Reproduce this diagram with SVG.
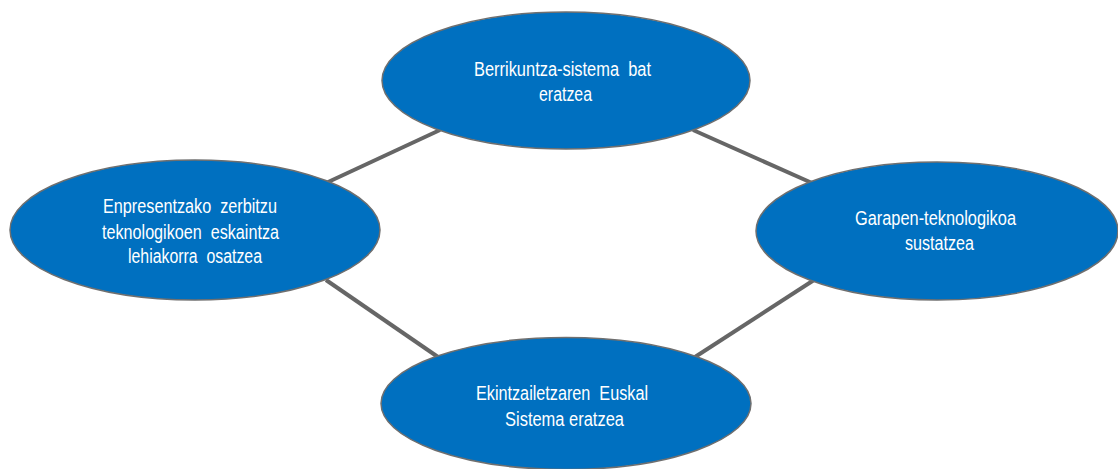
<svg xmlns="http://www.w3.org/2000/svg" width="1118" height="469" viewBox="0 0 1118 469">
<style>
.node ellipse{fill:#0070C0;stroke:#6f6f6f;stroke-width:1.5}
.node text{font-family:"Liberation Sans",Arial,sans-serif;font-size:19.5px;fill:#ffffff;white-space:pre}
.conn line{stroke:#666666;stroke-width:4;stroke-linecap:butt}
</style>
<rect width="1118" height="469" fill="#ffffff"/>
<g id="connectors" class="conn">
<line x1="326" y1="183" x2="440" y2="130"/>
<line x1="693" y1="130" x2="812" y2="183"/>
<line x1="326" y1="280" x2="438" y2="357"/>
<line x1="814" y1="280" x2="695" y2="357"/>
</g>
<g id="node-top" class="node">
<ellipse cx="566" cy="80.5" rx="184" ry="68.5"/>
<text x="474" y="76" textLength="177" lengthAdjust="spacingAndGlyphs" xml:space="preserve">Berrikuntza-sistema  bat</text>
<text x="539" y="100.5" textLength="53" lengthAdjust="spacingAndGlyphs">eratzea</text>
</g>
<g id="node-left" class="node">
<ellipse cx="195" cy="230" rx="185" ry="70"/>
<text x="103" y="213" textLength="174" lengthAdjust="spacingAndGlyphs" xml:space="preserve">Enpresentzako  zerbitzu</text>
<text x="102" y="238.5" textLength="177" lengthAdjust="spacingAndGlyphs" xml:space="preserve">teknologikoen  eskaintza</text>
<text x="128" y="263" textLength="134" lengthAdjust="spacingAndGlyphs" xml:space="preserve">lehiakorra  osatzea</text>
</g>
<g id="node-right" class="node">
<ellipse cx="937" cy="231" rx="181" ry="69"/>
<text x="855" y="225" textLength="161" lengthAdjust="spacingAndGlyphs">Garapen-teknologikoa</text>
<text x="905" y="250" textLength="69" lengthAdjust="spacingAndGlyphs">sustatzea</text>
</g>
<g id="node-bottom" class="node">
<ellipse cx="566" cy="403.5" rx="185" ry="66"/>
<text x="476" y="400" textLength="172" lengthAdjust="spacingAndGlyphs" xml:space="preserve">Ekintzailetzaren  Euskal</text>
<text x="505" y="426" textLength="119" lengthAdjust="spacingAndGlyphs">Sistema eratzea</text>
</g>
</svg>
